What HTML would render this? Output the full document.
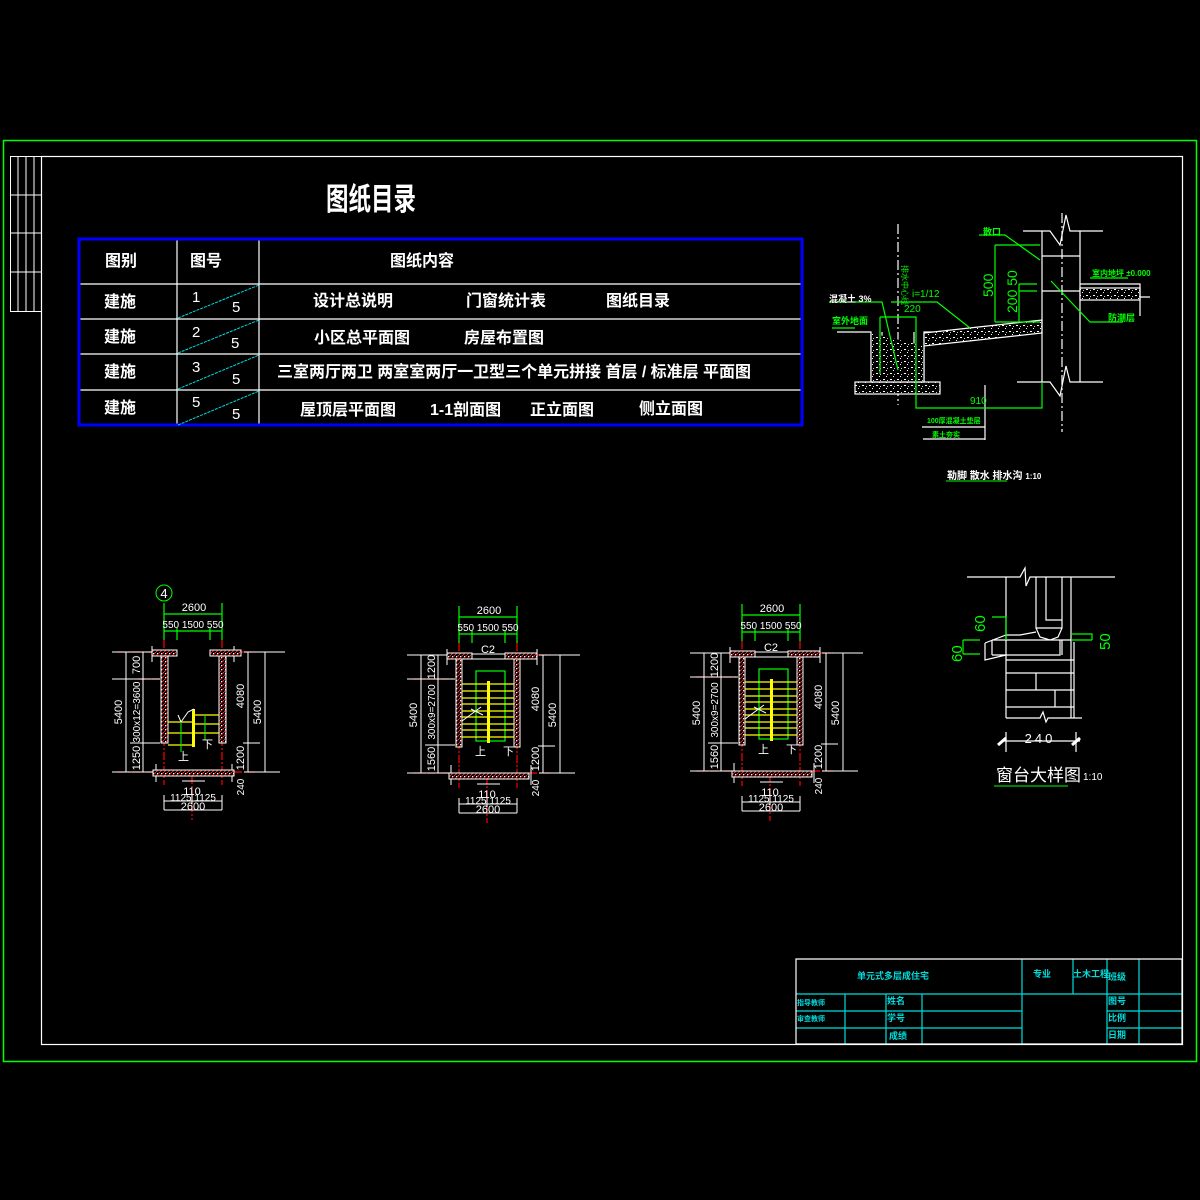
<!DOCTYPE html>
<html><head><meta charset="utf-8"><style>
html,body{margin:0;padding:0;background:#000;}
svg{display:block}
text{font-family:"Liberation Sans","Noto Sans CJK SC","WenQuanYi Zen Hei",sans-serif;}
</style></head><body>
<svg width="1200" height="1200" viewBox="0 0 1200 1200" xmlns="http://www.w3.org/2000/svg">
<defs>
<pattern id="h" width="4" height="4" patternUnits="userSpaceOnUse"><rect width="4" height="4" fill="#000"/><path d="M0 4L4 0" stroke="#d33" stroke-width="1"/><rect x="1" y="1" width="1" height="1" fill="#fff"/></pattern>
<pattern id="c" width="7" height="6" patternUnits="userSpaceOnUse"><rect width="7" height="6" fill="#000"/><rect x="1" y="1" width="2" height="1" fill="#fff"/><rect x="4" y="4" width="1" height="1" fill="#fff"/><rect x="5" y="2" width="1" height="1" fill="#ccc"/></pattern>
<g id="sb">
<g stroke="#0f0" stroke-width="1.2" fill="none">
<path d="M164 603V640M222 603V640M164 614H222M164 631H222M177 628V640M210 628V640"/>
<rect x="181" y="668" width="29" height="70"/>
</g>
<g stroke="#f00" stroke-width="1.2" stroke-dasharray="8 2 2 2">
<path d="M164 640V785M222 640V785M192 773V820M118 676H158M118 770H156M234 770H255M240 652H255"/>
</g>
<g stroke="#fff" stroke-width="1" fill="none">
<path d="M112 652H152M112 676H160M112 770H156M130 742H160M244 652H285M243 743H260M244 770H280M126 652V770M143 652V770M248 652V770M265 652V770M152 646V662M242 646V662M156 762V782M236 762V782M182 781H205"/>
<path d="M164 795V810M222 795V810M164 801H222M164 810H222M192 795V804"/>
<path d="M177 651H210M177 656H210"/>
</g>
<rect x="152" y="650" width="25" height="6" fill="url(#h)" stroke="#fff"/>
<rect x="210" y="650" width="32" height="6" fill="url(#h)" stroke="#fff"/>
<rect x="161" y="656" width="6" height="88" fill="url(#h)" stroke="#fff"/>
<rect x="219" y="656" width="6" height="88" fill="url(#h)" stroke="#fff"/>
<rect x="154" y="770" width="80" height="6" fill="url(#h)" stroke="#fff"/>
<g stroke="#ff0" stroke-width="1.2">
<path d="M167 681H219M167 688H219M167 695H219M167 701H219M167 708H219M167 714H219M167 721H219M167 727H219M167 734H219"/>
</g>
<rect x="192" y="678" width="3" height="62" fill="#ff0"/>
<path d="M167 718L186 704M176 706L188 712" stroke="#fff"/>
<g fill="#fff" font-size="11">
<text x="194" y="611" text-anchor="middle">2600</text>
<text x="193" y="628" text-anchor="middle" font-size="10">550 1500 550</text>
<text x="193" y="650" text-anchor="middle">C2</text>
<text x="192" y="795" text-anchor="middle">110</text>
<text x="193" y="801" text-anchor="middle" font-size="10">1125 1125</text>
<text x="193" y="810" text-anchor="middle">2600</text>
<text x="180" y="752">上</text><text x="208" y="752">下</text>
<text transform="translate(122 712) rotate(-90)" text-anchor="middle">5400</text>
<text transform="translate(140 664) rotate(-90)" text-anchor="middle">1200</text>
<text transform="translate(140 709) rotate(-90)" text-anchor="middle" font-size="10">300x9=2700</text>
<text transform="translate(140 756) rotate(-90)" text-anchor="middle">1560</text>
<text transform="translate(244 696) rotate(-90)" text-anchor="middle">4080</text>
<text transform="translate(244 756) rotate(-90)" text-anchor="middle">1200</text>
<text transform="translate(261 712) rotate(-90)" text-anchor="middle">5400</text>
<text transform="translate(244 785) rotate(-90)" text-anchor="middle" font-size="10">240</text>
</g>
</g>
</defs>
<rect width="1200" height="1200" fill="#000"/>
<rect x="3.5" y="140.5" width="1193" height="921" fill="none" stroke="#0f0" stroke-width="1.5"/>
<rect x="41.5" y="156.5" width="1141" height="888" fill="none" stroke="#fff" stroke-width="1.2"/>
<g stroke="#fff" stroke-width="1" fill="none">
<rect x="10.5" y="156.5" width="31" height="155"/>
<path d="M18 156V311M26 156V311M34 156V311M10 195H42M10 233H42M10 272H42"/>
</g>
<text transform="translate(326 210) scale(0.9 1.25)" font-size="25" font-weight="bold" fill="#fff">图纸目录</text>
<g stroke="#fff" stroke-width="1.2">
<path d="M78 284H803M78 319H803M78 354H803M78 390H803M177 238V426M259 238V426"/>
</g>
<rect x="79" y="239" width="723" height="186" fill="none" stroke="#00f" stroke-width="3"/>
<g stroke="#0dd" stroke-width="1" stroke-dasharray="3 1">
<path d="M178 318L259 285M178 353L259 320M178 389L259 355M178 425L259 391"/>
</g>
<g fill="#fff" font-size="16" font-weight="bold">
<text x="105" y="266">图别</text><text x="190" y="266">图号</text><text x="390" y="266">图纸内容</text>
<text x="104" y="307">建施</text><text x="104" y="342">建施</text><text x="104" y="377">建施</text><text x="104" y="413">建施</text>
<text x="313" y="306">设计总说明</text><text x="466" y="306">门窗统计表</text><text x="606" y="306">图纸目录</text>
<text x="314" y="343">小区总平面图</text><text x="464" y="343">房屋布置图</text>
<text x="277" y="377" textLength="474">三室两厅两卫  两室室两厅一卫型三个单元拼接 首层 / 标准层 平面图</text>
<text x="300" y="415">屋顶层平面图</text><text x="430" y="415">1-1剖面图</text><text x="530" y="415">正立面图</text><text x="639" y="414">侧立面图</text>
</g>
<g fill="#fff" font-size="15" font-family="Liberation Serif">
<text x="192" y="302">1</text><text x="232" y="312">5</text>
<text x="192" y="337">2</text><text x="231" y="348">5</text>
<text x="192" y="372">3</text><text x="232" y="384">5</text>
<text x="192" y="407">5</text><text x="232" y="419">5</text>
</g>

<g stroke="#fff" stroke-width="1.2" fill="none">
<path d="M898 224V405" stroke-dasharray="10 3 2 3"/>
<path d="M1062 213V432" stroke-dasharray="10 3 2 3"/>
<path d="M837 332H871V382H924V332H933"/>
<path d="M882 332V374H914V332"/>
<rect x="855" y="382" width="85" height="12" fill="url(#c)"/>
<path d="M924 333L1042 320V333L924 346Z" fill="url(#c)"/>
<path d="M871 333V382H924V346" fill="url(#c)"/>
<path d="M1042 231V382M1080 231V382M1023 231H1050L1060 245L1066 215L1070 231H1103M1017 382H1050L1060 396L1066 366L1070 382H1103M1042 256H1080M1042 291H1080"/>
<rect x="1080" y="288" width="60" height="12" fill="url(#c)"/>
<path d="M1080 284H1140V316M1140 297H1150"/>
<path d="M985 385V440M922 427H985M923 439H985"/>
</g>
<g stroke="#0f0" stroke-width="1.2" fill="none">
<path d="M995 245V322M995 245H1040M1019 284V322M1019 284H1037M1019 291H1037M995 322H1040"/>
<path d="M979 235H1005L1040 260M1051 281L1090 322H1123M891 302H937L970 328M829 302H882L898 370M832 328H855"/>
<path d="M880 317V374M880 317H916V338M916 338V408H1042V383"/>
<path d="M1090 278H1128"/>
</g>
<g fill="#0f0" font-size="9" font-weight="bold">
<text x="983" y="235">散口</text><text x="1092" y="276" font-size="8">室内地坪 ±0.000</text><text x="1108" y="321">防潮层</text>
<text x="829" y="302" fill="#fff">混凝土 3%</text><text x="832" y="324">室外地面</text>
<text x="912" y="297" font-size="10" font-weight="normal">i=1/12</text>
<text x="904" y="312" font-size="10" font-weight="normal">220</text>
<text x="970" y="404" font-size="10" font-weight="normal">910</text>
<text x="927" y="423" font-size="7">100厚混凝土垫层</text><text x="932" y="437" font-size="7">素土夯实</text>
</g>
<text x="993" y="297" fill="#0f0" font-size="14" transform="rotate(-90 993 297)">500</text>
<text x="1017" y="313" fill="#0f0" font-size="14" transform="rotate(-90 1017 313)">200 50</text>
<text x="902" y="265" fill="#0f0" font-size="8" transform="rotate(90 902 265)">排水中心线</text>
<text x="947" y="479" fill="#fff" font-size="10" font-weight="bold">勒脚 散水 排水沟 <tspan font-size="8">1:10</tspan></text>
<path d="M946 481H1007" stroke="#0f0"/>

<g stroke="#fff" stroke-width="1.2" fill="none">
<path d="M967 577H1020L1025 568L1026 586L1030 577H1115"/>
<path d="M1006 577V718M1071 577V718M1074 642V718M1036 577V628H1062V577M1046 577V620H1062"/>
<path d="M1036 628L1040 637L1050 640L1058 637L1062 628"/>
<path d="M992 640H1072M985 643L1006 635H1020L1036 632M992 640V655M985 643V660L1006 655M992 655H1060V640M1062 655V640M1006 660H1074M1006 673H1074M1006 690H1074M1006 707H1074M1036 673V690M1055 690V707M1006 718H1040L1043 712L1046 722L1048 718H1082"/>
<path d="M1006 732V752M1076 732V752M1002 741H1080"/>
</g>
<g stroke="#0f0" stroke-width="1.2" fill="none">
<path d="M992 617H1006V640M963 640H980M963 654H980M963 640V654M1071 634H1092V640M1071 640H1092"/>
</g>
<path d="M998 745L1006 738M1072 745L1080 738" stroke="#fff" stroke-width="3"/>
<text x="1040" y="743" fill="#fff" font-size="13" text-anchor="middle" letter-spacing="3">240</text>
<text transform="translate(985 632) rotate(-90)" fill="#0f0" font-size="15">60</text>
<text transform="translate(962 662) rotate(-90)" fill="#0f0" font-size="15">60</text>
<text transform="translate(1110 650) rotate(-90)" fill="#0f0" font-size="15">50</text>
<text x="996" y="781" fill="#fff" font-size="17">窗台大样图</text>
<text x="1083" y="780" fill="#fff" font-size="10">1:10</text>
<path d="M994 786H1068" stroke="#0f0"/>

<g>
<circle cx="164" cy="593" r="8" fill="none" stroke="#0f0"/>
<text x="164" y="598" fill="#fff" font-size="13" text-anchor="middle">4</text>
<g stroke="#0f0" stroke-width="1.2" fill="none">
<path d="M164 603V640M222 603V640M164 614H222M164 631H222M177 628V640M210 628V640"/>
</g>
<g stroke="#f00" stroke-width="1.2" stroke-dasharray="8 2 2 2">
<path d="M164 640V785M222 640V785M192 776V820M118 652H152M138 679H162M118 772H156M234 772H255M240 652H255"/>
</g>
<g stroke="#fff" stroke-width="1" fill="none">
<path d="M112 652H152M112 679H160M112 772H156M130 743H160M244 652H285M243 743H260M244 772H280M126 652V772M143 652V772M248 652V772M265 652V772M152 646V662M234 646V662M156 764V782M232 764V782M182 781H205"/>
<path d="M164 795V810M222 795V810M164 801H222M164 810H222M192 795V804"/>
</g>
<rect x="152" y="650" width="25" height="6" fill="url(#h)" stroke="#fff"/>
<rect x="210" y="650" width="31" height="6" fill="url(#h)" stroke="#fff"/>
<rect x="161" y="656" width="7" height="87" fill="url(#h)" stroke="#fff"/>
<rect x="219" y="656" width="7" height="87" fill="url(#h)" stroke="#fff"/>
<rect x="153" y="770" width="81" height="6" fill="url(#h)" stroke="#fff"/>
<g stroke="#ff0" stroke-width="1.2">
<path d="M168 722H192M168 733H192M168 745H192M194 715H219M194 724H219M194 733H219"/>
</g>
<rect x="192" y="709" width="3" height="38" fill="#ff0"/>
<path d="M181 722L178 715M181 722L188 712L194 709" stroke="#fff"/>
<path d="M181 722V752M205 716V740" stroke="#0f0"/>
<g fill="#fff" font-size="11">
<text x="194" y="611" text-anchor="middle">2600</text>
<text x="193" y="628" text-anchor="middle" font-size="10">550 1500 550</text>
<text x="192" y="795" text-anchor="middle">110</text>
<text x="193" y="801" text-anchor="middle" font-size="10">1125 1125</text>
<text x="193" y="810" text-anchor="middle">2600</text>
<text x="178" y="760">上</text><text x="202" y="748">下</text>
<text transform="translate(122 712) rotate(-90)" text-anchor="middle">5400</text>
<text transform="translate(140 665) rotate(-90)" text-anchor="middle">700</text>
<text transform="translate(140 712) rotate(-90)" text-anchor="middle" font-size="10">300x12=3600</text>
<text transform="translate(140 758) rotate(-90)" text-anchor="middle">1250</text>
<text transform="translate(244 696) rotate(-90)" text-anchor="middle">4080</text>
<text transform="translate(244 758) rotate(-90)" text-anchor="middle">1200</text>
<text transform="translate(261 712) rotate(-90)" text-anchor="middle">5400</text>
<text transform="translate(244 787) rotate(-90)" text-anchor="middle" font-size="10">240</text>
</g>
</g>

<use href="#sb" transform="translate(295 3)"/>
<use href="#sb" transform="translate(578 1)"/>

<g stroke="#0dd" stroke-width="1.2" fill="none">
<path d="M796 994H1182M796 1011H1022M796 1028H1022M1107 1011H1182M1107 1028H1182M845 994V1044M886 994V1044M922 994V1044M1022 959V1044M1073 959V994M1107 959V1044M1139 959V1044"/>
</g>
<g stroke="#fff" stroke-width="1.2" fill="none"><path d="M796 959H1182V1044H796Z"/></g>
<g fill="#0dd" font-size="9" font-weight="bold">
<text x="857" y="979">单元式多层成住宅</text>
<text x="1033" y="977">专业</text><text x="1073" y="977">土木工程</text><text x="1108" y="980">班级</text>
<text x="797" y="1005" font-size="7">指导教师</text><text x="797" y="1021" font-size="7">审查教师</text>
<text x="887" y="1004">姓名</text><text x="887" y="1021">学号</text><text x="889" y="1039">成绩</text>
<text x="1108" y="1004">图号</text><text x="1108" y="1021">比例</text><text x="1108" y="1038">日期</text>
</g>
</svg>
</body></html>
